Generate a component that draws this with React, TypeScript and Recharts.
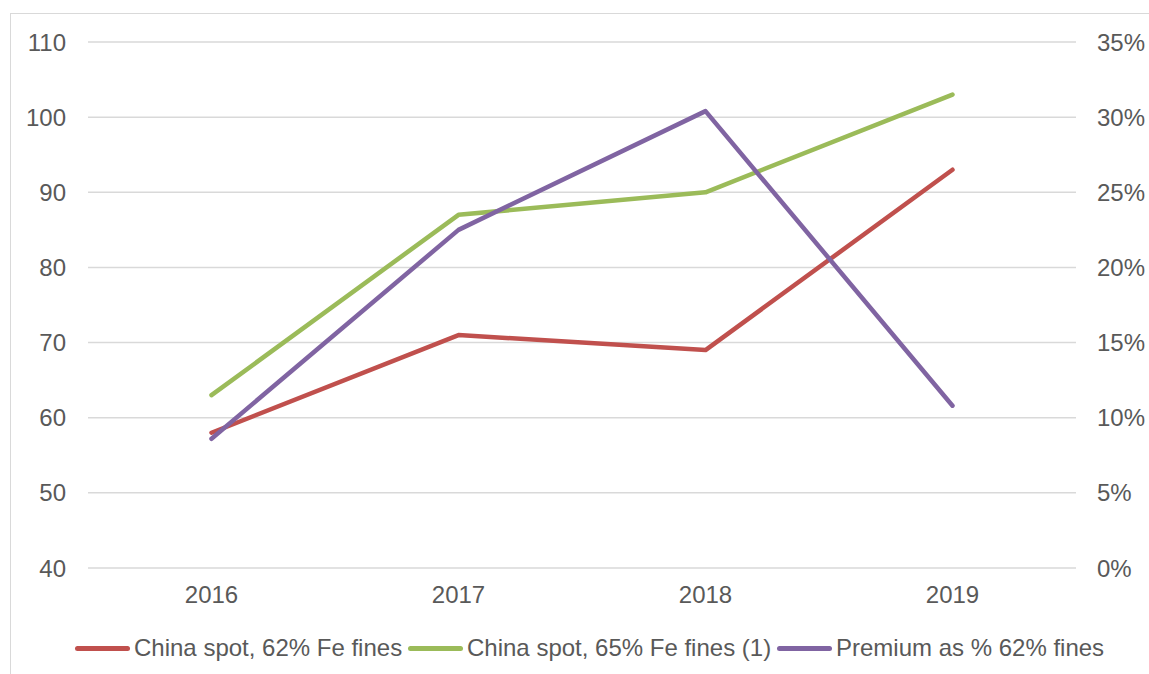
import { LineChart, Line, XAxis, YAxis, CartesianGrid } from "recharts";

const years = ["2016", "2017", "2018", "2019"];
const spot62 = [58, 71, 69, 93];
const spot65 = [63, 87, 90, 103];
const premium = [0.086, 0.225, 0.304, 0.108];

const leftTicks = [40, 50, 60, 70, 80, 90, 100, 110];
const rightTicks = [0, 0.05, 0.1, 0.15, 0.2, 0.25, 0.3, 0.35];

const series = [
  { key: "spot62", name: "China spot, 62% Fe fines", color: "#C0504D", left: 75 },
  { key: "spot65", name: "China spot, 65% Fe fines (1)", color: "#9BBB59", left: 408 },
  { key: "premium", name: "Premium as % 62% fines", color: "#8064A2", left: 777 },
];

const data = years.map((year, i) => ({
  year,
  spot62: spot62[i],
  spot65: spot65[i],
  premium: premium[i],
}));

const font = "'Liberation Sans', Arial, sans-serif";
const tickStyle = { fill: "#595959", fontSize: 24, fontFamily: font };

export default function App() {
  return (
    <div
      style={{
        position: "absolute",
        left: 0,
        top: 0,
        width: 1149,
        height: 674,
        overflow: "hidden",
        background: "#fff",
        fontFamily: font,
      }}
    >
      <div
        style={{
          position: "absolute",
          left: 10,
          top: 13,
          width: 1300,
          height: 800,
          border: "1.5px solid #d9d9d9",
        }}
      />
      <div style={{ position: "absolute", left: 0, top: 0 }}>
        <LineChart
          width={1149}
          height={674}
          data={data}
          margin={{ top: 42, right: 0, left: 0, bottom: 76 }}
        >
          <CartesianGrid
            vertical={false}
            stroke="#d9d9d9"
            strokeWidth={1.5}
            yAxisId="left"
          />
          <XAxis
            dataKey="year"
            axisLine={false}
            tickLine={false}
            tickSize={0}
            tickMargin={18}
            height={30}
            padding={{ left: 123.5, right: 123.5 }}
            tick={tickStyle}
          />
          <YAxis
            yAxisId="left"
            orientation="left"
            width={88}
            domain={[40, 110]}
            ticks={leftTicks}
            axisLine={false}
            tickLine={false}
            tickSize={0}
            tickMargin={22}
            tick={tickStyle}
          />
          <YAxis
            yAxisId="right"
            orientation="right"
            width={73}
            domain={[0, 0.35]}
            ticks={rightTicks}
            tickFormatter={(v: number) => `${Math.round(v * 100)}%`}
            axisLine={false}
            tickLine={false}
            tickSize={0}
            tickMargin={21}
            tick={{ ...tickStyle, textAnchor: "start" }}
          />
          <Line
            yAxisId="left"
            dataKey="spot62"
            stroke="#C0504D"
            strokeWidth={4.5}
            strokeLinecap="round"
            strokeLinejoin="round"
            dot={false}
            isAnimationActive={false}
          />
          <Line
            yAxisId="left"
            dataKey="spot65"
            stroke="#9BBB59"
            strokeWidth={4.5}
            strokeLinecap="round"
            strokeLinejoin="round"
            dot={false}
            isAnimationActive={false}
          />
          <Line
            yAxisId="right"
            dataKey="premium"
            stroke="#8064A2"
            strokeWidth={4.5}
            strokeLinecap="round"
            strokeLinejoin="round"
            dot={false}
            isAnimationActive={false}
          />
        </LineChart>
      </div>
      {series.map((s) => (
        <div
          key={s.key}
          style={{
            position: "absolute",
            left: s.left,
            top: 634,
            height: 28,
            display: "flex",
            alignItems: "center",
            whiteSpace: "nowrap",
          }}
        >
          <span
            style={{
              display: "inline-block",
              width: 55,
              height: 5,
              borderRadius: 3,
              background: s.color,
              marginRight: 4,
            }}
          />
          <span style={{ color: "#595959", fontSize: 24 }}>{s.name}</span>
        </div>
      ))}
    </div>
  );
}
